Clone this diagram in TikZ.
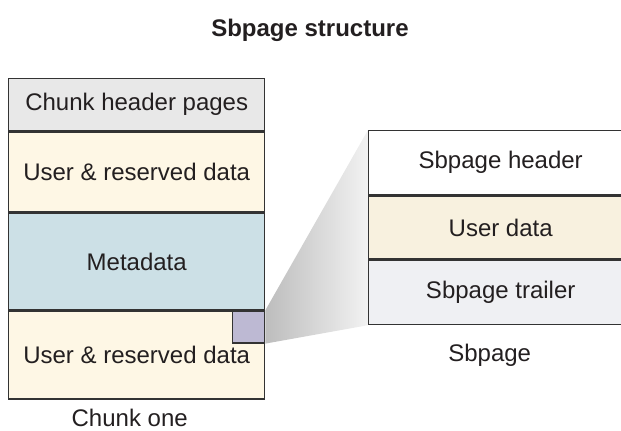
\documentclass[tikz,border=0pt]{standalone}
\usepackage{fontspec}
\setmainfont{Liberation Sans}
\usepackage{xcolor}
\usetikzlibrary{positioning, backgrounds}
\definecolor{edgegray}{HTML}{333333}
\definecolor{inkblack}{HTML}{231F20}
\definecolor{hdrgray}{HTML}{E8E8E8}
\definecolor{usercream}{HTML}{FEF7E5}
\definecolor{metablue}{HTML}{CCE0E6}
\definecolor{sqlavender}{HTML}{BDB9D3}
\definecolor{pagecream}{HTML}{F8F1DF}
\definecolor{trailgray}{HTML}{EFF0F3}
\tikzset{
  chunkrow/.style={draw=edgegray, line width=0.7pt, inner sep=0pt, text=inkblack,
    minimum width=128pt, font=\fontsize{12}{14}\selectfont},
  pagerow/.style={draw=edgegray, line width=0.7pt, inner sep=0pt, text=inkblack,
    minimum width=132pt, font=\fontsize{12}{14}\selectfont},
  caption/.style={font=\fontsize{12}{14}\selectfont, text=inkblack, inner sep=0pt, anchor=base}
}

\begin{document}
\begin{tikzpicture}
  \useasboundingbox (0,0) rectangle (310.5pt,-215pt);

  \node[font=\bfseries\fontsize{12}{14}\selectfont, text=inkblack] (title) at (155pt,-15pt) {Sbpage structure};

  % chunk one
  \node[chunkrow, fill=hdrgray, minimum height=26pt, anchor=north west] (hdr) at (4pt,-39pt) {Chunk header pages};
  \node[chunkrow, fill=usercream, minimum height=40pt, below=0pt of hdr] (user1) {User \& reserved data};
  \node[chunkrow, fill=metablue, minimum height=48pt, below=0pt of user1] (meta) {Metadata};
  \node[chunkrow, fill=usercream, minimum height=44pt, below=0pt of meta, text depth=-6pt] (user2) {User \& reserved data};
  \node[draw=edgegray, line width=0.7pt, fill=sqlavender, minimum size=16pt, inner sep=0pt,
        anchor=north east] (sq) at (meta.south east) {};
  \node[caption] (chunklbl) at ([xshift=-3.5pt, yshift=-13.5pt]user2.south) {Chunk one};

  % sbpage
  \node[pagerow, fill=white, minimum height=32pt, anchor=north west] (sbhdr) at (184pt,-65pt) {Sbpage header};
  \node[pagerow, fill=pagecream, minimum height=31.5pt, below=0pt of sbhdr] (sbuser) {User data};
  \node[pagerow, fill=trailgray, minimum height=32pt, below=0pt of sbuser] (sbtrl) {Sbpage trailer};
  \node[caption] (pagelbl) at ([xshift=-5.5pt, yshift=-18pt]sbtrl.south) {Sbpage};

  % zoom shadow
  \begin{pgfonlayer}{background}
    \shade[left color=black!26, right color=black!5]
      (sq.north east) -- (sbhdr.north west) -- (sbtrl.south west) -- (sq.south east) -- cycle;
  \end{pgfonlayer}
\end{tikzpicture}
\end{document}
